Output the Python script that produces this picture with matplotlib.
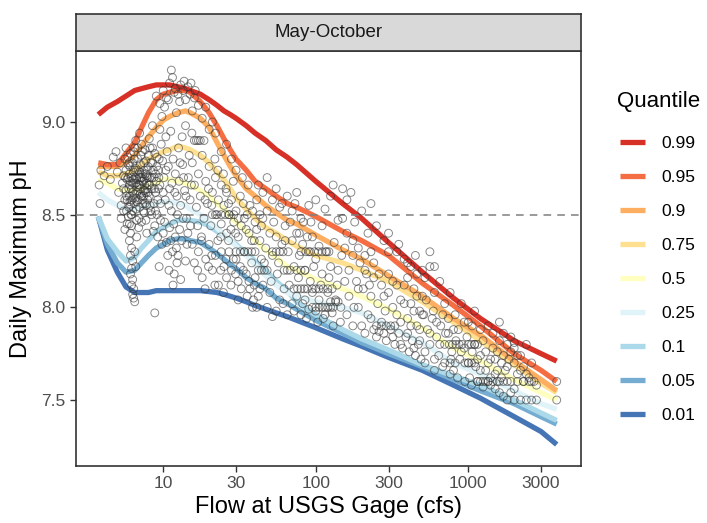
import numpy as np
import matplotlib.pyplot as plt
from matplotlib.ticker import FixedLocator, FixedFormatter, NullLocator

plt.rcParams['font.family'] = ['Liberation Sans', 'DejaVu Sans']

# flow grid used for the fitted quantile curves (cfs)
flow_grid = [3.75, 4.3, 5, 5.7, 6.5, 7.2, 8, 9, 10, 11, 12.5, 14, 15, 17.5,
             20, 22.5, 25, 27.5, 30, 35, 40, 47, 55, 65, 75, 100,
             150, 200, 300, 500, 800, 1200, 2000, 3000, 3800]

quantiles = ['0.99', '0.95', '0.9', '0.75', '0.5', '0.25', '0.1', '0.05', '0.01']
colors = ['#d73027', '#f46d43', '#fdae61', '#fee090', '#ffffbf',
          '#e0f3f8', '#abd9e9', '#74add1', '#4575b4']

q99 = [9.04, 9.08, 9.11, 9.14, 9.17, 9.18, 9.19, 9.20, 9.20, 9.20, 9.19, 9.18,
       9.17, 9.15, 9.12, 9.09, 9.06, 9.04, 9.02, 8.98, 8.94, 8.90, 8.85, 8.81,
       8.77, 8.68, 8.56, 8.48, 8.35, 8.19, 8.05, 7.94, 7.82, 7.75, 7.71]
q95 = [8.78, 8.77, 8.77, 8.83, 8.89, 8.97, 9.05, 9.12, 9.15, 9.16, 9.17, 9.17,
       9.16, 9.11, 9.05, 8.98, 8.91, 8.85, 8.80, 8.74, 8.68, 8.64, 8.60, 8.56,
       8.54, 8.49, 8.41, 8.36, 8.28, 8.13, 8.01, 7.90, 7.75, 7.66, 7.60]
q90 = [8.76, 8.76, 8.76, 8.78, 8.82, 8.87, 8.92, 8.97, 9.01, 9.03, 9.05, 9.06,
       9.05, 9.02, 8.97, 8.89, 8.82, 8.76, 8.71, 8.64, 8.60, 8.55, 8.51, 8.47,
       8.45, 8.39, 8.31, 8.26, 8.17, 8.06, 7.94, 7.85, 7.71, 7.61, 7.55]
q75 = [8.73, 8.71, 8.71, 8.72, 8.74, 8.77, 8.80, 8.82, 8.84, 8.85, 8.87, 8.86,
       8.85, 8.82, 8.78, 8.73, 8.69, 8.64, 8.59, 8.53, 8.48, 8.43, 8.40, 8.36,
       8.33, 8.28, 8.24, 8.20, 8.14, 8.03, 7.92, 7.82, 7.69, 7.59, 7.54]
q50 = [8.69, 8.67, 8.64, 8.63, 8.63, 8.64, 8.66, 8.67, 8.69, 8.69, 8.68, 8.67,
       8.66, 8.63, 8.60, 8.56, 8.53, 8.49, 8.46, 8.41, 8.36, 8.31, 8.27, 8.22,
       8.20, 8.15, 8.10, 8.06, 7.99, 7.89, 7.78, 7.71, 7.61, 7.54, 7.50]
q25 = [8.62, 8.58, 8.55, 8.53, 8.53, 8.54, 8.55, 8.56, 8.57, 8.57, 8.56, 8.55,
       8.53, 8.50, 8.46, 8.43, 8.39, 8.36, 8.33, 8.28, 8.23, 8.17, 8.12, 8.08,
       8.06, 8.03, 8.00, 7.97, 7.90, 7.81, 7.70, 7.64, 7.55, 7.48, 7.45]
q10 = [8.49, 8.37, 8.30, 8.25, 8.27, 8.32, 8.36, 8.41, 8.43, 8.45, 8.47, 8.47,
       8.47, 8.46, 8.44, 8.41, 8.39, 8.36, 8.34, 8.29, 8.25, 8.20, 8.14, 8.09,
       8.03, 7.96, 7.88, 7.83, 7.77, 7.69, 7.63, 7.58, 7.50, 7.43, 7.39]
q05 = [8.49, 8.34, 8.24, 8.19, 8.20, 8.24, 8.28, 8.32, 8.34, 8.36, 8.37, 8.37,
       8.36, 8.35, 8.32, 8.29, 8.26, 8.23, 8.21, 8.16, 8.13, 8.10, 8.05, 8.02,
       7.99, 7.93, 7.86, 7.81, 7.75, 7.68, 7.61, 7.55, 7.48, 7.41, 7.37]
q01 = [8.49, 8.31, 8.19, 8.11, 8.08, 8.08, 8.08, 8.09, 8.09, 8.09, 8.09, 8.09,
       8.09, 8.09, 8.085, 8.08, 8.07, 8.06, 8.05, 8.03, 8.01, 7.99, 7.97, 7.95,
       7.93, 7.89, 7.83, 7.79, 7.73, 7.66, 7.58, 7.51, 7.41, 7.33, 7.26]
curves = [q99, q95, q90, q75, q50, q25, q10, q05, q01]

obs = [
    (3.8, 8.66), (3.85, 8.56), (3.9, 8.74), (4.1, 8.71), (4.3, 8.76), (4.5, 8.69),
    (4.7, 8.81), (4.9, 8.84), (5.0, 8.73), (5.1, 8.62), (5.2, 8.78), (5.3, 8.55),
    (5.4, 8.67), (5.5, 8.71), (5.5, 8.52), (5.3, 8.48), (5.6, 8.42),
    (5.6, 8.80), (5.7, 8.74), (5.7, 8.63), (5.8, 8.69), (5.8, 8.58), (5.9, 8.77),
    (5.9, 8.49), (6.0, 8.72), (6.0, 8.66), (6.0, 8.60), (6.1, 8.83), (6.1, 8.55),
    (6.2, 8.70), (6.2, 8.64), (6.3, 8.78), (6.3, 8.52), (6.4, 8.73), (6.4, 8.67),
    (6.5, 8.61), (6.5, 8.86), (6.6, 8.75), (6.7, 8.69), (6.7, 8.57), (6.8, 8.80),
    (6.8, 8.63), (6.9, 8.72), (7.0, 8.66), (7.0, 8.54), (7.1, 8.77), (7.2, 8.70),
    (7.2, 8.60), (7.3, 8.84), (7.4, 8.68), (7.5, 8.74), (7.5, 8.51), (7.6, 8.63),
    (7.7, 8.79), (7.8, 8.71), (7.9, 8.58), (8.0, 8.66), (8.0, 8.82), (7.2, 8.46),
    (7.8, 8.40), (6.6, 8.90), (7.0, 8.94),
    (5.6, 8.58), (5.65, 8.70), (5.75, 8.52), (5.85, 8.81), (5.95, 8.64),
    (6.05, 8.76), (6.15, 8.50), (6.25, 8.67), (6.35, 8.59), (6.45, 8.80),
    (6.55, 8.70), (6.65, 8.53), (6.75, 8.65), (6.85, 8.74), (6.95, 8.48),
    (7.05, 8.61), (7.15, 8.82), (7.25, 8.68), (7.35, 8.56), (7.45, 8.78),
    (7.55, 8.66), (7.65, 8.72), (7.75, 8.55), (7.85, 8.64), (7.95, 8.76),
    (8.1, 8.60), (8.2, 8.70), (8.3, 8.52), (8.4, 8.64), (8.6, 8.74), (8.7, 8.56),
    (8.8, 8.83), (9.0, 8.68), (9.2, 8.58), (9.4, 8.80), (5.9, 8.70), (6.1, 8.68),
    (6.3, 8.62), (6.5, 8.74), (6.7, 8.62), (6.9, 8.66), (7.1, 8.70), (7.3, 8.58),
    (7.5, 8.69), (7.7, 8.62), (7.9, 8.70), (6.0, 8.78), (6.4, 8.84), (6.8, 8.86),
    (7.2, 8.88), (7.6, 8.85), (8.1, 8.91), (8.5, 8.86), (5.7, 8.86), (6.2, 8.58),
    (6.6, 8.67), (7.0, 8.73), (7.4, 8.63), (7.8, 8.67), (8.3, 8.78), (8.9, 8.72),
    (9.3, 8.64), (5.8, 8.45), (6.9, 8.43), (7.7, 8.47), (8.6, 8.41), (9.1, 8.50),
    (5.5, 8.64), (5.75, 8.60), (6.05, 8.57), (6.35, 8.69), (6.6, 8.59),
    (6.85, 8.58), (7.1, 8.64), (7.35, 8.72), (7.6, 8.56), (7.85, 8.74),
    (8.15, 8.66), (8.45, 8.70), (8.75, 8.64), (9.05, 8.76), (9.35, 8.70),
    (5.95, 8.54), (6.45, 8.56), (6.95, 8.70), (7.45, 8.60), (7.95, 8.62),
    (6.2, 8.50), (6.7, 8.47), (7.4, 8.52), (8.2, 8.55), (8.9, 8.52),
    (6.0, 8.45), (6.1, 8.40), (6.0, 8.36), (6.2, 8.32), (6.1, 8.28), (6.3, 8.25),
    (6.2, 8.21), (6.1, 8.18), (6.3, 8.15), (6.2, 8.12), (6.4, 8.10), (6.3, 8.07),
    (6.4, 8.05), (6.5, 8.03), (6.6, 8.22), (6.5, 8.30), (6.7, 8.38), (6.2, 8.44),
    (9.0, 9.14), (9.5, 9.10), (10, 9.17), (10.5, 9.13), (11, 9.21), (11.3, 9.28),
    (11.5, 9.24), (12, 9.18), (12.5, 9.15), (13, 9.20), (13.5, 9.17), (14, 9.12),
    (14.5, 9.19), (15, 9.15), (9.8, 9.03), (12.2, 9.05), (14, 8.98), (8.5, 8.98),
    (9.5, 8.96), (10.2, 9.08), (10.8, 9.12), (11.8, 9.16), (12.8, 9.11),
    (13.7, 9.22), (15.2, 9.21), (16.2, 9.17), (10.4, 8.92), (11.2, 8.95),
    (12.6, 8.86), (13.3, 8.92), (15.4, 8.94),
    (8.2, 8.86), (8.5, 8.78), (8.7, 8.70), (8.9, 8.62), (9.1, 8.81), (9.3, 8.74),
    (9.5, 8.66), (9.7, 8.88), (9.9, 8.79), (10.1, 8.70), (10.3, 8.58), (10.6, 8.84),
    (10.8, 8.76), (11.0, 8.64), (11.3, 8.52), (11.6, 8.80), (12.0, 8.72),
    (12.3, 8.60), (12.7, 8.68), (13.0, 8.55), (13.4, 8.77), (13.8, 8.63),
    (14.2, 8.48), (14.6, 8.70), (15, 8.58),
    (9.6, 8.56), (10.0, 8.62), (10.4, 8.74), (10.9, 8.55), (11.4, 8.67),
    (11.9, 8.62), (12.4, 8.50), (12.9, 8.78), (13.6, 8.70), (14.1, 8.60),
    (14.8, 8.82), (15.3, 8.66), (9.8, 8.34), (10.2, 8.46), (10.7, 8.28),
    (11.2, 8.36), (11.7, 8.45), (12.2, 8.32), (12.8, 8.42), (13.5, 8.48),
    (14.3, 8.34), (15.1, 8.44), (10.9, 8.20), (11.6, 8.12), (12.3, 8.24),
    (13.0, 8.15),
    (8.4, 8.50), (8.8, 8.44), (9.2, 8.38), (9.6, 8.47), (10.0, 8.40), (10.5, 8.35),
    (11.0, 8.43), (11.5, 8.30), (12.0, 8.38), (12.5, 8.28), (13.2, 8.36),
    (14.0, 8.25), (14.5, 8.40), (8.8, 7.97), (9.4, 8.22), (11.8, 8.18),
    (16, 8.90), (16.5, 8.90), (17, 8.90), (17.5, 8.90), (18.5, 8.90),
    (15.5, 9.06), (16, 9.13), (17, 9.09), (18, 9.02), (19, 9.08), (20, 8.96),
    (21, 9.00), (22, 8.94), (24, 8.84), (26, 8.88), (28, 8.80), (30, 8.74),
    (33, 8.70), (36, 8.66),
    (15.5, 8.78), (16, 8.66), (16.5, 8.54), (17, 8.72), (17.5, 8.60), (18, 8.82),
    (18.5, 8.48), (19, 8.68), (19.5, 8.56), (20, 8.76), (20.5, 8.44), (21, 8.62),
    (22, 8.70), (22, 8.50), (23, 8.58), (24, 8.66), (24, 8.45), (25, 8.55),
    (26, 8.62), (26, 8.40), (27, 8.50), (28, 8.58), (29, 8.46), (30, 8.52),
    (31, 8.38), (32, 8.60), (34, 8.48), (35, 8.42), (37, 8.55), (38, 8.36),
    (40, 8.46),
    (16.8, 8.44), (17.8, 8.38), (18.8, 8.58), (19.8, 8.64), (20.8, 8.55),
    (21.8, 8.80), (22.8, 8.74), (23.8, 8.38), (24.8, 8.72), (25.8, 8.64),
    (26.8, 8.56), (27.8, 8.42), (28.8, 8.68), (29.8, 8.40), (31, 8.48),
    (32.5, 8.44), (33.5, 8.56), (35.5, 8.50), (36.5, 8.40), (38.5, 8.52),
    (39.5, 8.36), (41, 8.58), (43, 8.50), (44, 8.44),
    (21, 8.50), (22.5, 8.50), (24, 8.50), (25.5, 8.50), (27, 8.50), (29, 8.50),
    (15.5, 8.34), (16, 8.24), (17, 8.30), (18, 8.16), (19, 8.26), (20, 8.34),
    (21, 8.20), (22, 8.28), (23, 8.12), (24, 8.30), (25, 8.22), (26, 8.16),
    (27, 8.30), (28, 8.20), (30, 8.26), (31, 8.14), (32, 8.22), (34, 8.30),
    (35, 8.18), (37, 8.10), (38, 8.24), (39, 8.04), (40, 8.16),
    (16.8, 8.20), (17.8, 8.36), (18.8, 8.10), (19.8, 8.22), (20.8, 8.28),
    (21.8, 8.12), (22.8, 8.36), (23.8, 8.20), (24.8, 8.08), (25.8, 8.26),
    (26.8, 8.36), (27.8, 8.12), (28.8, 8.26), (29.8, 8.18), (31, 8.04),
    (32.5, 8.10), (33.5, 8.20), (35.5, 8.06), (36.5, 8.14), (38.5, 8.00),
    (39.5, 8.12), (41, 8.00), (43, 8.10), (44, 8.26),
    (30, 8.30), (32, 8.30), (34, 8.30), (36, 8.30), (38, 8.30), (40, 8.30),
    (42, 8.20), (44, 8.20), (46, 8.20), (48, 8.20),
    (42, 8.66), (45, 8.62), (48, 8.70), (52, 8.58), (55, 8.64), (60, 8.56),
    (65, 8.60), (70, 8.52), (75, 8.62), (80, 8.48), (90, 8.55), (100, 8.58),
    (110, 8.44), (125, 8.60), (140, 8.47), (150, 8.64), (130, 8.66), (115, 8.53),
    (41, 8.42), (43, 8.36), (45, 8.48), (47, 8.32), (50, 8.40), (52, 8.28),
    (55, 8.38), (57, 8.24), (60, 8.34), (63, 8.44), (66, 8.30), (70, 8.36),
    (72, 8.22), (75, 8.40), (78, 8.28), (82, 8.34), (85, 8.20), (90, 8.30),
    (95, 8.38), (100, 8.26), (105, 8.33), (110, 8.18), (118, 8.30), (125, 8.22),
    (132, 8.35), (140, 8.20), (148, 8.28),
    (48, 8.52), (53, 8.46), (58, 8.54), (63, 8.36), (68, 8.46), (73, 8.56),
    (78, 8.40), (83, 8.46), (88, 8.38), (93, 8.46),
    (52, 8.30), (55, 8.30), (58, 8.30), (61, 8.30),
    (80, 8.30), (86, 8.30), (92, 8.30), (98, 8.30), (104, 8.30), (110, 8.30),
    (116, 8.30), (122, 8.30), (75, 8.20), (80, 8.20), (85, 8.20),
    (62, 8.20), (65, 8.20), (68, 8.20), (72, 8.10), (76, 8.10), (80, 8.10),
    (84, 8.10), (88, 8.10), (95, 8.10), (100, 8.10), (105, 8.10), (112, 8.10),
    (120, 8.10), (128, 8.10), (125, 8.03), (135, 8.03), (140, 8.03),
    (42, 8.06), (45, 8.12), (48, 8.00), (50, 8.08), (55, 7.98), (58, 8.04),
    (62, 8.10), (65, 7.96), (70, 8.02), (75, 8.06), (80, 7.96), (85, 8.04),
    (90, 7.99), (95, 8.08), (100, 7.98), (105, 8.04), (112, 7.94), (120, 8.08),
    (128, 7.97), (135, 8.04), (145, 7.92), (52, 7.95),
    (46, 8.24), (51, 8.14), (56, 8.18), (61, 8.02), (67, 8.12), (72, 7.98),
    (77, 8.16), (82, 8.02), (87, 7.94), (92, 8.14), (97, 8.22), (103, 7.92),
    (108, 8.12), (115, 7.96), (122, 8.16), (130, 7.90), (138, 8.12), (146, 8.00),
    (155, 8.14), (165, 8.06), (178, 8.00), (190, 8.10),
    (95, 8.00), (100, 8.00), (105, 8.00), (110, 8.00), (115, 8.00), (120, 8.00),
    (125, 8.00), (130, 8.00),
    (160, 8.40), (175, 8.36), (190, 8.32), (210, 8.28), (230, 8.30), (150, 8.48),
    (160, 8.58), (180, 8.46), (200, 8.52), (220, 8.40), (250, 8.44), (280, 8.36),
    (300, 8.30), (350, 8.34), (400, 8.24), (450, 8.28), (170, 8.62), (230, 8.56),
    (155, 8.32), (165, 8.20), (175, 8.28), (185, 8.14), (195, 8.24), (205, 8.10),
    (215, 8.18), (230, 8.06), (240, 8.16), (255, 8.02), (270, 8.12), (285, 7.98),
    (300, 8.08), (320, 8.14), (340, 7.96), (360, 8.04), (380, 8.12), (400, 7.94),
    (420, 8.02), (440, 8.10), (460, 7.90), (480, 7.98), (500, 8.06),
    (210, 8.20), (225, 8.12), (240, 8.24), (260, 8.18), (280, 8.06), (300, 8.18),
    (320, 8.00), (340, 8.12), (360, 7.92), (380, 8.02), (400, 8.16), (420, 7.90),
    (440, 7.98), (460, 8.06), (480, 7.88), (500, 7.96), (530, 8.04), (560, 7.86),
    (590, 7.98), (620, 7.92), (650, 7.80), (680, 7.96), (710, 7.86), (740, 7.94),
    (770, 7.72), (800, 7.88),
    (160, 7.96), (175, 7.90), (190, 8.00), (210, 7.86), (230, 7.94), (250, 7.84),
    (270, 7.92), (290, 7.82), (310, 7.88), (330, 7.80), (350, 7.86), (370, 7.78),
    (390, 7.84), (410, 7.76), (430, 7.82), (450, 7.74), (470, 7.80), (490, 7.72),
    (200, 7.90), (260, 7.87),
    (220, 7.96), (240, 7.88), (280, 7.86), (320, 7.84), (360, 7.80), (400, 7.86),
    (440, 7.78), (480, 7.82), (520, 7.70), (560, 7.80), (600, 7.66), (640, 7.74),
    (700, 7.70), (760, 7.70), (800, 7.66),
    (300, 8.40), (340, 8.30), (380, 8.26), (420, 8.22), (460, 8.18), (500, 8.20),
    (560, 8.30), (600, 8.22),
    (250, 7.90), (270, 7.90), (290, 7.90), (310, 7.90), (330, 7.90),
    (520, 8.16), (560, 8.22), (600, 8.08), (650, 8.14), (700, 8.02), (760, 8.08),
    (820, 7.96), (900, 8.02), (1000, 7.92), (1100, 7.98), (1200, 7.88),
    (1350, 7.90), (1450, 7.86),
    (510, 7.96), (540, 7.88), (580, 7.94), (620, 7.84), (660, 7.90), (700, 7.80),
    (740, 7.86), (780, 7.76), (830, 7.82), (880, 7.72), (940, 7.78), (1000, 7.70),
    (1060, 7.76), (1120, 7.68), (1200, 7.74), (1300, 7.66), (1400, 7.72),
    (1500, 7.64),
    (750, 7.80), (790, 7.80), (830, 7.80), (870, 7.80), (910, 7.80),
    (950, 7.70), (1000, 7.70), (1050, 7.70), (1100, 7.70),
    (1000, 7.80), (1050, 7.80), (1100, 7.80), (1150, 7.80),
    (520, 7.76), (600, 7.72), (680, 7.68), (760, 7.64), (850, 7.62), (950, 7.60),
    (1050, 7.58), (1150, 7.60), (1250, 7.57), (1350, 7.60),
    (1150, 7.60), (1200, 7.60), (1250, 7.60), (1300, 7.60),
    (1350, 7.60), (1450, 7.60), (1550, 7.60),
    (820, 7.70), (860, 7.88), (900, 7.76), (940, 7.92), (980, 7.84), (1020, 7.62),
    (1060, 7.90), (1100, 7.80), (1150, 7.72), (1200, 7.66), (1250, 7.82),
    (1300, 7.76), (1350, 7.70), (1400, 7.62), (1450, 7.78), (1500, 7.72),
    (1550, 7.66), (1600, 7.82), (1650, 7.62), (1700, 7.74), (1800, 7.68),
    (1900, 7.76), (2000, 7.70), (2100, 7.74), (2200, 7.66), (2300, 7.60),
    (2400, 7.64), (2600, 7.60), (2800, 7.58), (1400, 7.58), (1500, 7.56),
    (1600, 7.54), (1700, 7.52), (1800, 7.50), (2000, 7.56),
    (1600, 7.92), (1700, 7.86), (1800, 7.80), (1900, 7.84), (2000, 7.78),
    (2200, 7.74), (2400, 7.80), (2600, 7.70), (1550, 7.76), (1650, 7.70),
    (1750, 7.66), (1850, 7.72), (2100, 7.64), (2300, 7.68), (2500, 7.62),
    (2000, 7.81), (2100, 7.60), (2300, 7.60), (2500, 7.60), (2700, 7.60),
    (3800, 7.60), (1600, 7.60), (1700, 7.60), (1800, 7.60), (1900, 7.60),
    (2000, 7.50), (2200, 7.50), (2400, 7.50), (2600, 7.50), (2800, 7.50),
    (3800, 7.50), (1900, 7.54),
]
obs_flow = [f for f, p in obs]
obs_ph = [p for f, p in obs]

ph_standard = 8.5

fig = plt.figure(figsize=(7.07, 5.23), dpi=100)
ax = fig.add_axes([76 / 707, 1 - 466 / 523, 505 / 707, 415 / 523])

for q, c, vals in zip(quantiles[::-1], colors[::-1], curves[::-1]):
    ax.plot(flow_grid, vals, color=c, lw=3.8, solid_capstyle='butt',
            solid_joinstyle='round', label=q, zorder=2)

ax.axhline(ph_standard, color='#7f7f7f', lw=1.1, ls=(0, (5, 4)), zorder=3)
ax.scatter(obs_flow, obs_ph, s=32, facecolors='none', edgecolors='#333333',
           linewidths=0.7, alpha=0.58, zorder=4)

ax.set_xscale('log')
ax.set_xlim(10 ** 0.428, 10 ** 3.739)
ax.set_ylim(7.144, 9.383)
xt = [10, 30, 100, 300, 1000, 3000]
ax.xaxis.set_major_locator(FixedLocator(xt))
ax.xaxis.set_major_formatter(FixedFormatter([str(v) for v in xt]))
ax.xaxis.set_minor_locator(NullLocator())
ax.set_yticks([7.5, 8.0, 8.5, 9.0])
ax.set_yticklabels(['7.5', '8.0', '8.5', '9.0'])
ax.tick_params(axis='both', colors='#333333', labelcolor='#4d4d4d',
               labelsize=12.5, length=4, width=1)
for s in ax.spines.values():
    s.set_color('#333333')
    s.set_linewidth(1.2)
ax.set_xlabel('Flow at USGS Gage (cfs)', fontsize=17, labelpad=3)
ax.set_ylabel('Daily Maximum pH', fontsize=17, labelpad=7)

# facet strip
strip = fig.add_axes([76 / 707, 1 - 51 / 523, 505 / 707, 37 / 523])
strip.set_facecolor('#d9d9d9')
strip.set_xticks([])
strip.set_yticks([])
for s in strip.spines.values():
    s.set_color('#333333')
    s.set_linewidth(1.2)
strip.text(0.5, 0.5, 'May-October', ha='center', va='center', fontsize=13.5,
           color='#1a1a1a', transform=strip.transAxes)

# legend: title placed on its own so the gap to the keys matches
fig.text(617 / 707, 1 - 102 / 523, 'Quantile', ha='left', va='center',
         fontsize=16, color='black')
handles, labels = ax.get_legend_handles_labels()
leg = fig.legend(handles[::-1], labels[::-1],
                 loc='upper left', bbox_to_anchor=(604 / 707, 1 - 120 / 523),
                 frameon=False, fontsize=12.5,
                 handlelength=1.45, handletextpad=0.95, labelspacing=1.09)

fig.savefig('out.png', dpi=100)
